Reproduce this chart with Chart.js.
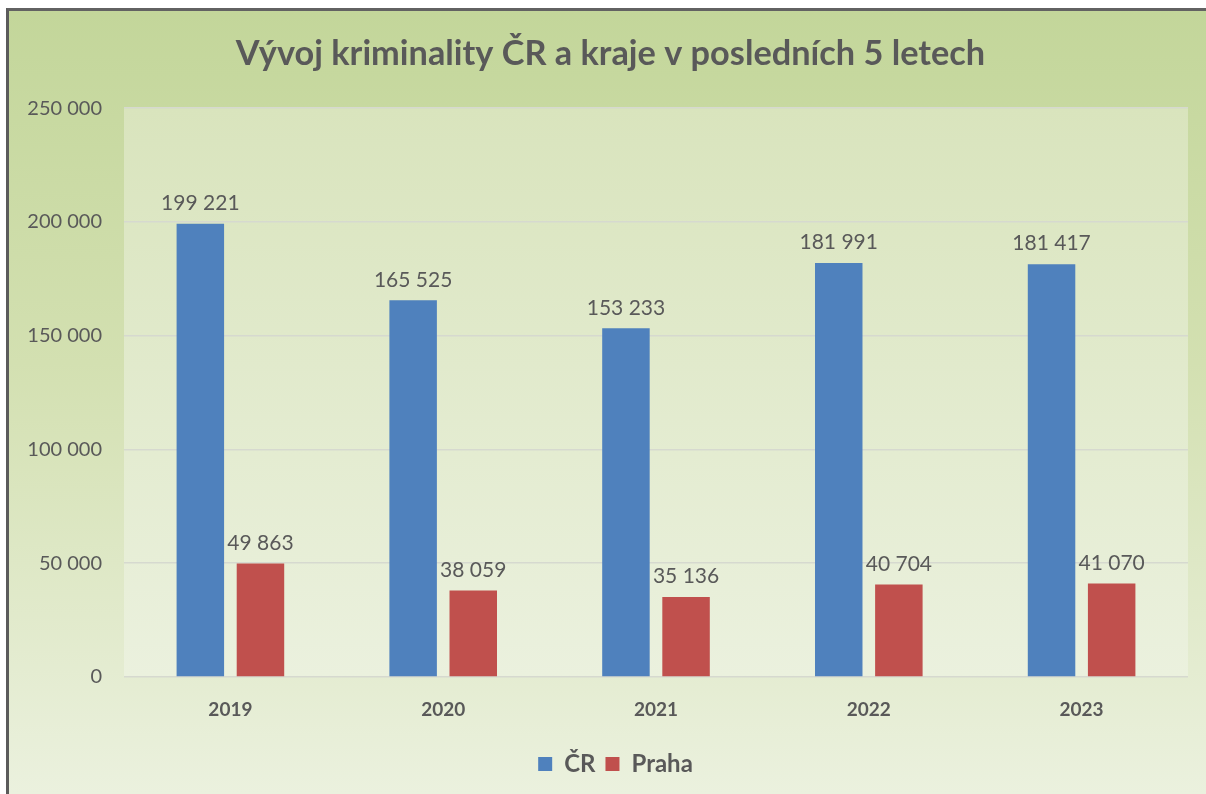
<!DOCTYPE html>
<html>
<head>
<meta charset="utf-8">
<script src="https://cdn.jsdelivr.net/npm/chart.js@4/dist/chart.umd.min.js"></script>
<style>
  html, body { margin: 0; padding: 0; background: #fff; }
  #frame {
    position: absolute; left: 6px; top: 8px;
    width: 1197px; height: 783px;
    border-left: 3px solid #5b5b5b;
    border-top: 3px solid #626262;
  }
  canvas { display: block; }
</style>
</head>
<body>
<div id="frame"><canvas id="chart" width="1197" height="783"></canvas></div>
<script>
  // ── Data ────────────────────────────────────────────
  const years = ['2019', '2020', '2021', '2022', '2023'];
  const cr    = [199221, 165525, 153233, 181991, 181417];
  const praha = [49863, 38059, 35136, 40704, 41070];
  const yTicks = [0, 50000, 100000, 150000, 200000, 250000];

  const GREY = '#595959';
  const FONT = "Lato, 'Open Sans', sans-serif";
  const fmt = v => String(v).replace(/\B(?=(\d{3})+(?!\d))/g, ' ');

  // background: outer gradient + lighter plot area
  const bgPlugin = {
    id: 'bg',
    beforeDraw(chart) {
      const { ctx, width, height, chartArea: a } = chart;
      let g = ctx.createLinearGradient(0, 0, 0, height);
      g.addColorStop(0, '#c3d69a');
      g.addColorStop(0.45, '#d3e0b1');
      g.addColorStop(1, '#ebf1de');
      ctx.save();
      ctx.fillStyle = g;
      ctx.fillRect(0, 0, width, height);
      g = ctx.createLinearGradient(0, a.top, 0, a.bottom);
      g.addColorStop(0, '#d9e4bd');
      g.addColorStop(1, '#ebf1de');
      ctx.fillStyle = g;
      ctx.fillRect(a.left, a.top, a.right - a.left, a.bottom - a.top);
      ctx.restore();
    }
  };

  // nudge title and legend to the right, like the original
  const nudgePlugin = {
    id: 'nudge',
    afterLayout(chart) {
      if (chart.legend) { chart.legend.left += 17; chart.legend.right += 17; }
      if (chart.titleBlock) { chart.titleBlock.left += 12; chart.titleBlock.right += 12; }
    }
  };

  // value labels above bars
  const labelPlugin = {
    id: 'vals',
    afterDatasetsDraw(chart) {
      const { ctx } = chart;
      ctx.save();
      ctx.font = '21px ' + FONT;
      ctx.fillStyle = GREY;
      ctx.textAlign = 'center';
      ctx.textBaseline = 'bottom';
      chart.data.datasets.forEach((ds, i) => {
        chart.getDatasetMeta(i).data.forEach((el, j) => {
          ctx.fillText(fmt(ds.data[j]), el.x, el.y - 10);
        });
      });
      ctx.restore();
    }
  };

  new Chart(document.getElementById('chart'), {
    type: 'bar',
    data: {
      labels: years,
      datasets: [
        { label: 'ČR', data: cr, backgroundColor: '#4f81bd' },
        { label: 'Praha', data: praha, backgroundColor: '#c0504d' }
      ]
    },
    options: {
      responsive: false,
      animation: false,
      layout: { padding: { left: 0, right: 18, top: 0, bottom: 8 } },
      datasets: { bar: { categoryPercentage: 0.565, barPercentage: 0.79 } },
      plugins: {
        title: {
          display: true,
          text: 'Vývoj kriminality ČR a kraje v posledních 5 letech',
          color: GREY,
          font: { family: FONT, size: 34.3, weight: 'bold' },
          padding: { top: 22, bottom: 34 }
        },
        legend: {
          position: 'bottom',
          labels: {
            color: GREY,
            boxWidth: 14, boxHeight: 14,
            padding: 10,
            font: { family: FONT, size: 24, weight: 'bold' }
          }
        },
        tooltip: { enabled: false }
      },
      scales: {
        x: {
          grid: { display: false, drawTicks: false },
          border: { display: false },
          ticks: { color: GREY, padding: 21, font: { family: FONT, size: 19, weight: 'bold' } },
          afterFit: s => { s.height = 65; }
        },
        y: {
          min: 0, max: 250000,
          afterBuildTicks: s => { s.ticks = yTicks.map(v => ({ value: v })); },
          grid: { color: '#d6d9cf', lineWidth: 1.5, drawTicks: false },
          border: { display: false },
          ticks: { color: GREY, padding: 22, font: { family: FONT, size: 20 }, callback: v => fmt(v) },
          afterFit: s => { s.width = 115; }
        }
      }
    },
    plugins: [bgPlugin, nudgePlugin, labelPlugin]
  });
</script>
</body>
</html>
